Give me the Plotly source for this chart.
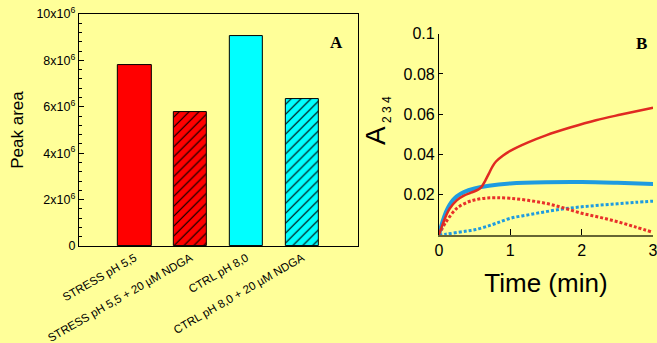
import plotly.graph_objects as go

# Panel A data
categories = ["STRESS pH 5,5", "STRESS pH 5,5 + 20 µM NDGA", "CTRL pH 8,0", "CTRL pH 8,0 + 20 µM NDGA"]
peak_area = [7.8e6, 5.76e6, 9.04e6, 6.35e6]
bar_colors = ["#FF0000", "#FF0000", "#00FFFF", "#00FFFF"]
bar_patterns = ["", "/", "", "/"]
a_tickvals = [0, 2e6, 4e6, 6e6, 8e6, 10e6]
a_ticktext = ["0", "2x10<sup>6</sup>", "4x10<sup>6</sup>", "6x10<sup>6</sup>", "8x10<sup>6</sup>", "10x10<sup>6</sup>"]

# Panel B data
time_red = [0, 0.05, 0.1, 0.15, 0.25, 0.35, 0.45, 0.55, 0.6, 0.65, 0.7, 0.75, 0.8, 0.9, 1.0, 1.25, 1.5, 1.85, 2.2, 2.55, 3.0]
red_solid = [0, 0.005, 0.0095, 0.013, 0.0172, 0.0195, 0.021, 0.0225, 0.024, 0.027, 0.0305, 0.034, 0.0365, 0.0395, 0.0418, 0.046, 0.0495, 0.0535, 0.057, 0.0598, 0.0632]
time_blue = [0, 0.05, 0.1, 0.15, 0.2, 0.25, 0.35, 0.5, 0.7, 1.0, 1.5, 2.0, 2.5, 3.0]
blue_solid = [0, 0.0065, 0.0115, 0.015, 0.0175, 0.0192, 0.0213, 0.0231, 0.0245, 0.0256, 0.0262, 0.0263, 0.0259, 0.0253]
time_dot = [0, 0.1, 0.25, 0.4, 0.5, 0.65, 0.8, 1.0, 1.25, 1.5, 1.75, 2.0, 2.25, 2.5, 2.75, 3.0]
red_dotted = [0, 0.0065, 0.0132, 0.0163, 0.0174, 0.0183, 0.0185, 0.0182, 0.0172, 0.0157, 0.0134, 0.0108, 0.0088, 0.0066, 0.0040, 0.0013]
blue_dotted = [0, 0.0004, 0.0012, 0.0020, 0.0026, 0.0040, 0.0058, 0.0083, 0.0100, 0.0116, 0.0130, 0.0140, 0.0148, 0.0155, 0.0162, 0.0168]

BG = "#FFFF99"
FONT = "Liberation Sans, Arial, sans-serif"
W, H = 657, 343

fig = go.Figure()

for i, cat in enumerate(categories):
    fig.add_trace(go.Bar(
        x=[i], y=[peak_area[i]], width=0.6, name=cat,
        marker=dict(color=bar_colors[i], line=dict(color="black", width=1),
                    pattern=dict(shape=bar_patterns[i], fgcolor="#000000", fgopacity=1,
                                 size=7, solidity=0.16, fillmode="overlay")),
        xaxis="x", yaxis="y", showlegend=False))

DOT = "3px,2px"
fig.add_trace(go.Scatter(x=time_dot, y=blue_dotted, mode="lines", xaxis="x2", yaxis="y2",
                         line=dict(color="#1E9BE0", width=3, dash=DOT, shape="spline"), showlegend=False))
fig.add_trace(go.Scatter(x=time_dot, y=red_dotted, mode="lines", xaxis="x2", yaxis="y2",
                         line=dict(color="#E8302A", width=3, dash=DOT, shape="spline"), showlegend=False))
fig.add_trace(go.Scatter(x=time_blue, y=blue_solid, mode="lines", xaxis="x2", yaxis="y2",
                         line=dict(color="#1E9BE0", width=4, shape="spline"), showlegend=False))
fig.add_trace(go.Scatter(x=time_red, y=red_solid, mode="lines", xaxis="x2", yaxis="y2",
                         line=dict(color="#E02A22", width=2.5, shape="spline"), showlegend=False))

fig.update_layout(
    width=W, height=H, margin=dict(l=0, r=0, t=0, b=0, autoexpand=False),
    paper_bgcolor=BG, plot_bgcolor=BG, font=dict(family=FONT, color="black"),
    bargap=0, barmode="overlay",
    xaxis=dict(domain=[0.120, 0.545], range=[-1, 4], tickvals=list(range(len(categories))),
               ticktext=categories, tickangle=-30, tickfont=dict(size=11.5), ticks="",
               showline=True, linecolor="black", linewidth=1, mirror=True, showgrid=False,
               zeroline=False, anchor="y", automargin=False),
    yaxis=dict(domain=[0.283, 0.959], range=[0, 10e6], tickvals=a_tickvals, ticktext=a_ticktext,
               tickfont=dict(size=12.5), ticks="inside", ticklen=5, tickcolor="black",
               minor=dict(dtick=0.4e6, ticks="inside", ticklen=3, tickcolor="black"),
               showline=True, linecolor="black", linewidth=1, mirror=True, showgrid=False,
               zeroline=False, anchor="x", automargin=False,
               title=dict(text="Peak area", font=dict(size=17), standoff=8)),
    xaxis2=dict(domain=[0.668, 0.994], range=[0, 3], tickvals=[0, 1, 2, 3], tickfont=dict(size=16),
                ticks="inside", ticklen=6, tickcolor="black", showline=True, linecolor="#666633",
                linewidth=2, showgrid=False, zeroline=False, anchor="y2", automargin=False,
                ticklabeloverflow="allow",
                title=dict(text="Time (min)", font=dict(size=26), standoff=16)),
    yaxis2=dict(domain=[0.3149, 0.902], range=[0, 0.1], tickvals=[0.02, 0.04, 0.06, 0.08, 0.1],
                ticktext=["0.02", "0.04", "0.06", "0.08", "0.1"], tickfont=dict(size=16),
                ticks="inside", ticklen=4, tickcolor="black", showline=True, linecolor="black",
                linewidth=1, showgrid=False, zeroline=False, anchor="x2", automargin=False),
    annotations=[
        dict(text="<b>A</b>", x=336, y=42, xref="paper", yref="paper", showarrow=False,
             xanchor="center", yanchor="middle",
             font=dict(family="Liberation Serif, Times New Roman, serif", size=17)),
        dict(text="<b>B</b>", x=641, y=43, xref="paper", yref="paper", showarrow=False,
             xanchor="center", yanchor="middle",
             font=dict(family="Liberation Serif, Times New Roman, serif", size=17)),
        dict(text="A<sub><span style='font-size:12px'> 2 3 4</span></sub>", textangle=-90,
             x=377, y=121, xref="paper", yref="paper", showarrow=False,
             xanchor="center", yanchor="middle", font=dict(size=28)),
    ],
)

# convert pixel annotation positions to paper coords
for ann in fig.layout.annotations:
    ann.x = ann.x / W
    ann.y = 1 - ann.y / H

fig.write_html("out.html", config={"displayModeBar": False},
               post_script="document.body.style.margin='0';")
